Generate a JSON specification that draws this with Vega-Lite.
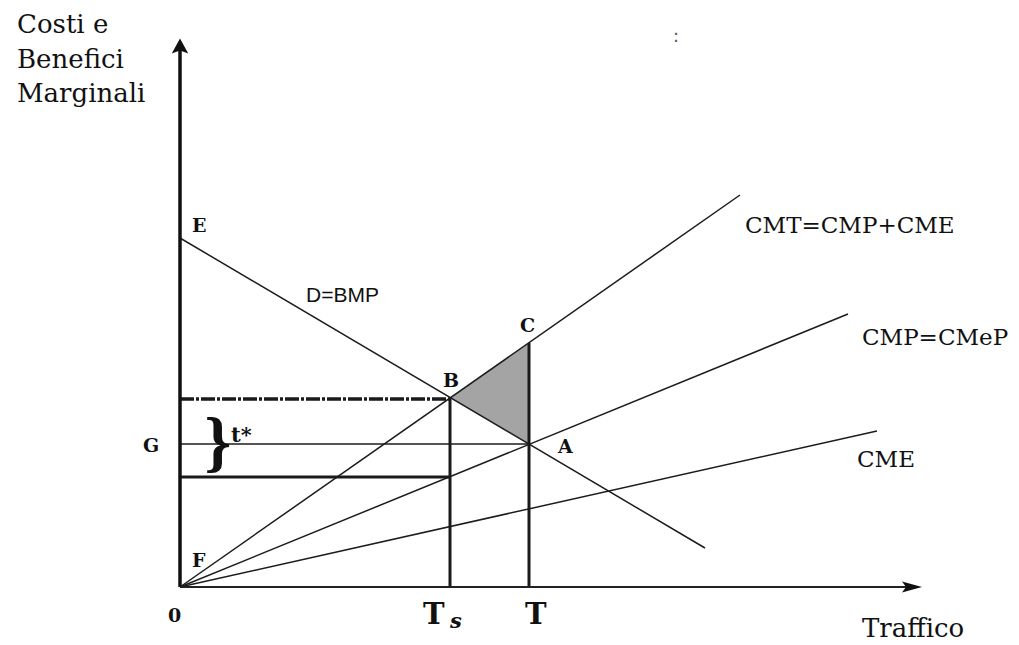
{
  "$schema": "https://vega.github.io/schema/vega-lite/v6.json",
  "width": 1019,
  "height": 645,
  "padding": 0,
  "autosize": {"type": "fit", "contains": "padding"},
  "background": "white",
  "config": {"view": {"stroke": null}},
  "layer": [
    {
      "data": {"values": [
        {"x": 270, "y": 189, "y2": 189},
        {"x": 349, "y": 244, "y2": 143}
      ]},
      "mark": {"type": "area", "color": "#a4a4a4", "opacity": 1},
      "encoding": {
        "x": {"field": "x", "type": "quantitative", "scale": {"domain": [-180, 839], "nice": false, "zero": false}, "axis": null},
        "y": {"field": "y", "type": "quantitative", "scale": {"domain": [-58, 587], "nice": false, "zero": false}, "axis": null},
        "y2": {"field": "y2"}
      }
    },
    {
      "data": {"values": [
        {"name": "D=BMP", "x": 0, "y": 349, "x2": 525, "y2": 39},
        {"name": "CMT", "x": 0, "y": 0, "x2": 560, "y2": 392},
        {"name": "CMP", "x": 0, "y": 0, "x2": 668, "y2": 273},
        {"name": "CME", "x": 0, "y": 0, "x2": 697, "y2": 156},
        {"name": "G", "x": 0, "y": 143, "x2": 349, "y2": 143}
      ]},
      "mark": {"type": "rule", "color": "#1c1c1c", "strokeWidth": 1.5},
      "encoding": {
        "x": {"field": "x", "type": "quantitative"},
        "y": {"field": "y", "type": "quantitative"},
        "x2": {"field": "x2"},
        "y2": {"field": "y2"}
      }
    },
    {
      "data": {"values": [
        {"name": "Ts", "x": 270, "y": 0, "x2": 270, "y2": 189},
        {"name": "T", "x": 349, "y": 0, "x2": 349, "y2": 244},
        {"name": "low", "x": 0, "y": 110, "x2": 270, "y2": 110}
      ]},
      "mark": {"type": "rule", "color": "#1a1a1a", "strokeWidth": 3},
      "encoding": {
        "x": {"field": "x", "type": "quantitative"},
        "y": {"field": "y", "type": "quantitative"},
        "x2": {"field": "x2"},
        "y2": {"field": "y2"}
      }
    },
    {
      "data": {"values": [
        {"name": "high", "x": 0, "y": 188, "x2": 270, "y2": 188}
      ]},
      "mark": {"type": "rule", "color": "#1a1a1a", "strokeWidth": 3.5, "strokeDash": [14, 2, 3, 2]},
      "encoding": {
        "x": {"field": "x", "type": "quantitative"},
        "y": {"field": "y", "type": "quantitative"},
        "x2": {"field": "x2"},
        "y2": {"field": "y2"}
      }
    },
    {
      "data": {"values": [
        {"name": "yaxis", "x": 0, "y": 0, "x2": 0, "y2": 541}
      ]},
      "mark": {"type": "rule", "color": "#111111", "strokeWidth": 3.5},
      "encoding": {
        "x": {"field": "x", "type": "quantitative"},
        "y": {"field": "y", "type": "quantitative"},
        "x2": {"field": "x2"},
        "y2": {"field": "y2"}
      }
    },
    {
      "data": {"values": [
        {"name": "xaxis", "x": 0, "y": 0, "x2": 728, "y2": 0}
      ]},
      "mark": {"type": "rule", "color": "#222222", "strokeWidth": 2},
      "encoding": {
        "x": {"field": "x", "type": "quantitative"},
        "y": {"field": "y", "type": "quantitative"},
        "x2": {"field": "x2"},
        "y2": {"field": "y2"}
      }
    },
    {
      "data": {"values": [{"name": "yarrow", "x": 0, "y": 541}]},
      "mark": {"type": "point", "shape": "M0,-1L1.1,1L0,0.6L-1.1,1Z", "size": 225, "filled": true, "color": "#111111", "opacity": 1},
      "encoding": {
        "x": {"field": "x", "type": "quantitative"},
        "y": {"field": "y", "type": "quantitative"}
      }
    },
    {
      "data": {"values": [{"name": "xarrow", "x": 732, "y": 0}]},
      "mark": {"type": "point", "shape": "M1,0L-1,-0.55L-0.6,0L-1,0.55Z", "size": 400, "filled": true, "color": "#111111", "opacity": 1},
      "encoding": {
        "x": {"field": "x", "type": "quantitative"},
        "y": {"field": "y", "type": "quantitative"}
      }
    },
    {
      "data": {"values": [
        {"label": "Costi e", "x": -163, "y": 554},
        {"label": "Benefici", "x": -163, "y": 519},
        {"label": "Marginali", "x": -163, "y": 485},
        {"label": "Traffico", "x": 682, "y": -50}
      ]},
      "mark": {"type": "text", "font": "DejaVu Serif", "fontSize": 26, "align": "left", "baseline": "alphabetic", "color": "#111111"},
      "encoding": {
        "x": {"field": "x", "type": "quantitative"},
        "y": {"field": "y", "type": "quantitative"},
        "text": {"field": "label"}
      }
    },
    {
      "data": {"values": [
        {"label": "CMT=CMP+CME", "x": 565, "y": 354},
        {"label": "CMP=CMeP", "x": 682, "y": 242},
        {"label": "CME", "x": 677, "y": 120}
      ]},
      "mark": {"type": "text", "font": "DejaVu Serif", "fontSize": 23, "align": "left", "baseline": "alphabetic", "color": "#111111"},
      "encoding": {
        "x": {"field": "x", "type": "quantitative"},
        "y": {"field": "y", "type": "quantitative"},
        "text": {"field": "label"}
      }
    },
    {
      "data": {"values": [
        {"label": "D=BMP", "x": 126, "y": 285}
      ]},
      "mark": {"type": "text", "font": "Liberation Sans", "fontSize": 21, "align": "left", "baseline": "alphabetic", "color": "#111111"},
      "encoding": {
        "x": {"field": "x", "type": "quantitative"},
        "y": {"field": "y", "type": "quantitative"},
        "text": {"field": "label"}
      }
    },
    {
      "data": {"values": [
        {"label": "E", "x": 12, "y": 355},
        {"label": "F", "x": 12, "y": 20},
        {"label": "G", "x": -37, "y": 135},
        {"label": "0", "x": -12, "y": -35},
        {"label": "B", "x": 263, "y": 200},
        {"label": "C", "x": 340, "y": 255},
        {"label": "A", "x": 378, "y": 134}
      ]},
      "mark": {"type": "text", "font": "DejaVu Serif", "fontWeight": "bold", "fontSize": 19, "align": "left", "baseline": "alphabetic", "color": "#111111"},
      "encoding": {
        "x": {"field": "x", "type": "quantitative"},
        "y": {"field": "y", "type": "quantitative"},
        "text": {"field": "label"}
      }
    },
    {
      "data": {"values": [
        {"label": "t*", "x": 51, "y": 145}
      ]},
      "mark": {"type": "text", "font": "DejaVu Serif", "fontWeight": "bold", "fontSize": 21, "align": "left", "baseline": "alphabetic", "color": "#111111"},
      "encoding": {
        "x": {"field": "x", "type": "quantitative"},
        "y": {"field": "y", "type": "quantitative"},
        "text": {"field": "label"}
      }
    },
    {
      "data": {"values": [
        {"label": "T", "x": 243, "y": -37},
        {"label": "T", "x": 345, "y": -37}
      ]},
      "mark": {"type": "text", "font": "DejaVu Serif", "fontWeight": "bold", "fontSize": 29, "align": "left", "baseline": "alphabetic", "color": "#111111"},
      "encoding": {
        "x": {"field": "x", "type": "quantitative"},
        "y": {"field": "y", "type": "quantitative"},
        "text": {"field": "label"}
      }
    },
    {
      "data": {"values": [
        {"label": "s", "x": 270, "y": -41}
      ]},
      "mark": {"type": "text", "font": "DejaVu Serif", "fontWeight": "bold", "fontStyle": "italic", "fontSize": 21, "align": "left", "baseline": "alphabetic", "color": "#111111"},
      "encoding": {
        "x": {"field": "x", "type": "quantitative"},
        "y": {"field": "y", "type": "quantitative"},
        "text": {"field": "label"}
      }
    },
    {
      "data": {"values": [
        {"label": "}", "x": 38, "y": 143}
      ]},
      "mark": {"type": "text", "font": "Liberation Serif", "fontWeight": "bold", "fontSize": 68, "align": "center", "baseline": "middle", "color": "#111111"},
      "encoding": {
        "x": {"field": "x", "type": "quantitative"},
        "y": {"field": "y", "type": "quantitative"},
        "text": {"field": "label"}
      }
    },
    {
      "data": {"values": [
        {"label": ":", "x": 496, "y": 550}
      ]},
      "mark": {"type": "text", "font": "DejaVu Sans", "fontSize": 18, "align": "center", "baseline": "middle", "color": "#555555"},
      "encoding": {
        "x": {"field": "x", "type": "quantitative"},
        "y": {"field": "y", "type": "quantitative"},
        "text": {"field": "label"}
      }
    }
  ]
}
